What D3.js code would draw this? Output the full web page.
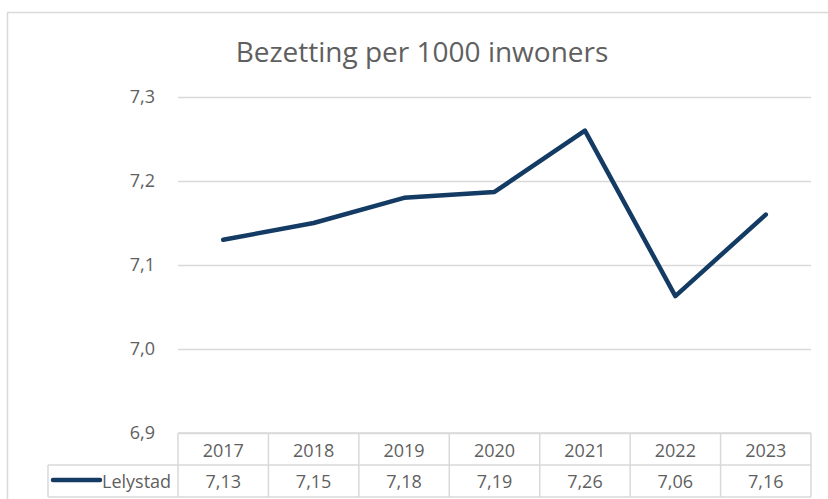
<!DOCTYPE html>
<html>
<head>
    <script src="https://d3js.org/d3.v7.min.js"></script>
    <title>Bezetting per 1000 inwoners</title>
    <style>
        body { margin: 0; background: #fff; }
        svg text { font-family: "Open Sans", "Noto Sans", sans-serif; fill: #5f5f5f; }
    </style>
</head>
<body>
    <div id="chart"></div>
    <script>
        // Data
        var years = ["2017", "2018", "2019", "2020", "2021", "2022", "2023"];
        var lelystad = [7.13, 7.15, 7.18, 7.187, 7.26, 7.063, 7.16];
        var yTicks = [6.9, 7.0, 7.1, 7.2, 7.3];
        var seriesName = "Lelystad";
        var title = "Bezetting per 1000 inwoners";

        var width = 828, height = 499;
        var plotLeft = 178, plotRight = 811;
        var plotTop = 97, plotBottom = 433;
        var rowH = 32;
        var lineColor = "#133b64";
        var gridColor = "#d9d9d9";

        var svg = d3.select('#chart').append('svg')
            .attr('width', width)
            .attr('height', height);

        // chart area frame
        svg.append('rect')
            .attr('x', 7.5).attr('y', 12.5)
            .attr('width', width + 20).attr('height', height + 20)
            .attr('fill', 'none')
            .attr('stroke', '#d9d9d9')
            .attr('stroke-width', 1.5);

        svg.append('text')
            .attr('x', 422).attr('y', 62)
            .attr('text-anchor', 'middle')
            .attr('font-size', '28px')
            .text(title);

        var x = d3.scaleBand().domain(years).range([plotLeft, plotRight]);
        var y = d3.scaleLinear().domain([6.9, 7.3]).range([plotBottom, plotTop]);

        // gridlines + y labels
        var yAxis = d3.axisLeft(y)
            .tickValues(yTicks)
            .tickSize(-(plotRight - plotLeft))
            .tickPadding(23)
            .tickFormat(function(d) { return d3.format('.1f')(d).replace('.', ','); });

        var gy = svg.append('g')
            .attr('transform', 'translate(' + plotLeft + ',0)')
            .call(yAxis);
        gy.select('.domain').remove();
        gy.selectAll('.tick line').attr('stroke', gridColor).attr('stroke-width', 1.5);
        gy.selectAll('.tick text')
            .attr('font-size', '18px')
            .attr('fill', '#5f5f5f')
            .style('font-family', '"Open Sans", sans-serif');

        // line
        var line = d3.line()
            .x(function(d, i) { return x(years[i]) + x.bandwidth() / 2; })
            .y(function(d) { return y(d); });

        svg.append('path')
            .datum(lelystad)
            .attr('d', line)
            .attr('fill', 'none')
            .attr('stroke', lineColor)
            .attr('stroke-width', 4.5)
            .attr('stroke-linejoin', 'round')
            .attr('stroke-linecap', 'round');

        // data table
        var table = svg.append('g').attr('class', 'table');
        var labelLeft = 48;
        var rowTop1 = plotBottom, rowTop2 = plotBottom + rowH, rowBottom = plotBottom + 2 * rowH;

        function hline(x1, x2, yy) {
            table.append('line').attr('x1', x1).attr('x2', x2).attr('y1', yy).attr('y2', yy)
                .attr('stroke', gridColor).attr('stroke-width', 1.5);
        }
        function vline(xx, y1, y2) {
            table.append('line').attr('x1', xx).attr('x2', xx).attr('y1', y1).attr('y2', y2)
                .attr('stroke', gridColor).attr('stroke-width', 1.5);
        }
        hline(plotLeft, plotRight, rowTop1);
        hline(labelLeft, plotRight, rowTop2);
        hline(labelLeft, plotRight, rowBottom);
        vline(labelLeft, rowTop2, rowBottom);
        years.forEach(function(yr) { vline(x(yr), rowTop1, rowBottom); });
        vline(plotRight, rowTop1, rowBottom);

        table.selectAll('.year')
            .data(years)
            .enter().append('text')
            .attr('x', function(d) { return x(d) + x.bandwidth() / 2; })
            .attr('y', rowTop1 + 24)
            .attr('text-anchor', 'middle')
            .attr('font-size', '18px')
            .text(function(d) { return d; });

        table.selectAll('.val')
            .data(lelystad)
            .enter().append('text')
            .attr('x', function(d, i) { return x(years[i]) + x.bandwidth() / 2; })
            .attr('y', rowTop2 + 23)
            .attr('text-anchor', 'middle')
            .attr('font-size', '18px')
            .text(function(d) { return d3.format('.2f')(d).replace('.', ','); });

        // legend key
        table.append('line')
            .attr('x1', 53).attr('x2', 100)
            .attr('y1', rowTop2 + 15).attr('y2', rowTop2 + 15)
            .attr('stroke', lineColor)
            .attr('stroke-width', 4.5)
            .attr('stroke-linecap', 'round');

        table.append('text')
            .attr('x', 102).attr('y', rowTop2 + 23)
            .attr('font-size', '18px')
            .text(seriesName);
    </script>
</body>
</html>
